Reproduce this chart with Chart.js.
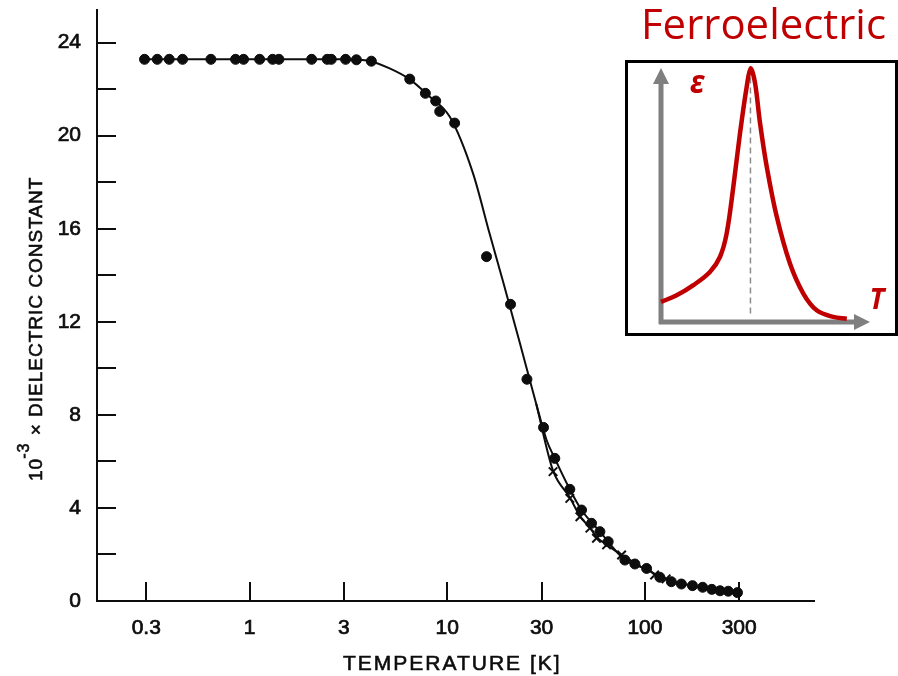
<!DOCTYPE html>
<html>
<head>
<meta charset="utf-8">
<script src="https://cdn.jsdelivr.net/npm/chart.js@4/dist/chart.umd.min.js"></script>
<style>
  html, body { margin: 0; padding: 0; background: #fff; }
  #wrap { position: relative; width: 898px; height: 676px; overflow: hidden; }
  #main { position: absolute; left: 0; top: 0; }
  #inset { position: absolute; left: 625px; top: 60px; background: #fff; }
</style>
</head>
<body>
<div id="wrap">
  <canvas id="main" width="898" height="676"></canvas>
  <canvas id="inset" width="273" height="276"></canvas>
</div>
<script>
// measured points (filled circles)
const dotT = [0.294, 0.341, 0.392, 0.458, 0.637, 0.849, 0.932, 1.124, 1.308, 1.407, 2.06, 2.47, 2.59, 3.06, 3.47, 4.13,
  6.46, 7.75, 8.74, 9.16, 10.9, 15.8, 20.9, 25.3, 30.7, 35.0, 41.7, 47.8, 53.7, 59.2, 65.2, 79.2, 89.0,
  102, 119, 136, 153, 174, 196, 218, 240, 264, 294];
const dotEps = [23.28, 23.28, 23.28, 23.28, 23.28, 23.28, 23.28, 23.28, 23.28, 23.28, 23.28, 23.28, 23.28, 23.28, 23.26, 23.2,
  22.43, 21.82, 21.49, 21.04, 20.54, 14.80, 12.75, 9.53, 7.46, 6.13, 4.80, 3.91, 3.34, 2.98, 2.55, 1.76, 1.59,
  1.40, 1.02, 0.83, 0.73, 0.66, 0.59, 0.50, 0.44, 0.42, 0.36];

// second sample (crosses)
const crossT = [34.3, 41.7, 46.9, 52.7, 56.9, 64.0, 76.2, 112, 128];
const crossEps = [5.56, 4.41, 3.62, 3.13, 2.70, 2.41, 1.98, 1.12, 0.95];

// fitted curves
const fitT = [0.294, 1, 3, 4.06, 5.11, 6.46, 8.16, 10.3, 13.5, 16.4, 19.2, 23.3, 28.2, 31.8, 35.0, 41.7, 47.8, 59.2, 79.2, 100, 119, 153, 196, 240, 300];
const fitEps = [23.28, 23.28, 23.28, 23.2, 22.89, 22.42, 21.67, 20.81, 18.38, 15.77, 13.70, 11.09, 8.47, 6.92, 6.13, 4.80, 3.91, 2.98, 1.76, 1.40, 1.05, 0.75, 0.58, 0.45, 0.36];
const crossFitT = [28.2, 34.3, 41.7, 46.9, 52.7, 56.9, 64, 76.2, 95];
const crossFitEps = [8.47, 5.6, 4.45, 3.65, 3.15, 2.75, 2.42, 1.98, 1.5];

const xTicks = [0.3, 1, 3, 10, 30, 100, 300];
const xTickLabels = ['0.3', '1', '3', '10', '30', '100', '300'];

// schematic inset (arbitrary units)
const insetT = [0, 7.5, 15.5, 23.4, 28.2, 31.4, 34.6, 37.8, 41.0, 42.9, 45.0, 47.4, 50.6, 55.4, 61.7, 68.1, 74.5, 82.4, 88.9];
const insetEps = [7.9, 10.5, 14.5, 19.7, 25.6, 34.8, 53.2, 74.3, 92.6, 99.9, 94.0, 78.2, 61.1, 41.4, 23.0, 11.2, 4.6, 2.0, 1.3];
const tcT = [42.8, 42.8];
const tcEps = [3.3, 98];

const pts = (xs, ys) => xs.map((x, i) => ({ x: x, y: ys[i] }));
const INK = '#0d0d0d';
const RED = '#c00000';
const FONT = '"Liberation Sans", "DejaVu Sans", sans-serif';

const annotate = {
  id: 'annotate',
  beforeDatasetsDraw(chart) {
    const { ctx, chartArea, scales: { x, y } } = chart;
    ctx.save();
    ctx.strokeStyle = INK;
    ctx.lineWidth = 2;
    ctx.beginPath();
    y.ticks.forEach(t => {
      const py = Math.round(y.getPixelForValue(t.value));
      ctx.moveTo(chartArea.left, py);
      ctx.lineTo(chartArea.left + 19, py);
    });
    x.ticks.forEach(t => {
      const px = Math.round(x.getPixelForValue(t.value));
      ctx.moveTo(px, chartArea.bottom);
      ctx.lineTo(px, chartArea.bottom - 19);
    });
    ctx.stroke();
    ctx.restore();
  },
  afterDraw(chart) {
    const ctx = chart.ctx;
    ctx.save();
    ctx.fillStyle = INK;
    ctx.strokeStyle = INK;
    ctx.lineWidth = 0.6;
    // y title, rotated
    ctx.translate(42, 481);
    ctx.rotate(-Math.PI / 2);
    ctx.font = '19px ' + FONT;
    ctx.letterSpacing = '1px';
    ctx.fillText('10', 0, 0);
    ctx.strokeText('10', 0, 0);
    let cx = ctx.measureText('10').width;
    ctx.font = '16px ' + FONT;
    ctx.fillText('-3', cx - 1, -13);
    ctx.strokeText('-3', cx - 1, -13);
    cx += ctx.measureText('-3').width;
    ctx.font = '19px ' + FONT;
    ctx.fillText(' \u00d7 DIELECTRIC CONSTANT', cx, 0);
    ctx.strokeText(' \u00d7 DIELECTRIC CONSTANT', cx, 0);
    ctx.restore();

    ctx.save();
    ctx.fillStyle = INK;
    ctx.strokeStyle = INK;
    ctx.lineWidth = 0.6;
    ctx.font = '21px ' + FONT;
    ctx.letterSpacing = '2px';
    ctx.fillText('TEMPERATURE [K]', 343, 670);
    ctx.strokeText('TEMPERATURE [K]', 343, 670);
    ctx.restore();

    ctx.save();
    ctx.fillStyle = RED;
    ctx.font = '42px "Open Sans", "Noto Sans", sans-serif';
    ctx.fillText('Ferroelectric', 641, 39, 245);
    ctx.restore();
  }
};

new Chart(document.getElementById('main'), {
  type: 'scatter',
  data: {
    datasets: [{
      label: 'dots',
      data: pts(dotT, dotEps),
      backgroundColor: INK,
      borderColor: INK,
      pointRadius: 5,
      pointHoverRadius: 5
    }, {
      label: 'crosses',
      data: pts(crossT, crossEps),
      pointStyle: 'crossRot',
      borderColor: INK,
      borderWidth: 2,
      pointRadius: 6
    }, {
      label: 'fit',
      data: pts(fitT, fitEps),
      showLine: true,
      borderColor: INK,
      borderWidth: 2,
      pointRadius: 0,
      cubicInterpolationMode: 'monotone'
    }, {
      label: 'fit crosses',
      data: pts(crossFitT, crossFitEps),
      showLine: true,
      borderColor: INK,
      borderWidth: 2,
      pointRadius: 0,
      cubicInterpolationMode: 'monotone'
    }]
  },
  options: {
    responsive: false,
    animation: false,
    layout: { padding: { top: 10, right: 84, left: 0, bottom: 0 } },
    plugins: { legend: { display: false }, tooltip: { enabled: false } },
    scales: {
      x: {
        type: 'logarithmic',
        min: 0.169,
        max: 717,
        afterBuildTicks: s => { s.ticks = xTicks.map(v => ({ value: v })); },
        afterFit: s => { s.height = 75; s.paddingLeft = 0; s.paddingRight = 0; },
        grid: { display: false, drawTicks: false },
        border: { display: true, color: INK, width: 2 },
        ticks: {
          autoSkip: false,
          maxRotation: 0,
          padding: 15,
          color: INK,
          textStrokeColor: INK,
          textStrokeWidth: 0.7,
          font: { family: FONT, size: 21 },
          callback: (v, i) => xTickLabels[i]
        }
      },
      y: {
        min: 0,
        max: 25.4,
        afterFit: s => { s.width = 97; s.paddingTop = 0; s.paddingBottom = 0; },
        grid: { display: false, drawTicks: false },
        border: { display: true, color: INK, width: 2 },
        ticks: {
          stepSize: 2,
          includeBounds: false,
          autoSkip: false,
          padding: 16,
          color: INK,
          textStrokeColor: INK,
          textStrokeWidth: 0.7,
          font: { family: FONT, size: 21 },
          callback: v => (v % 4 === 0 ? String(v) : '')
        }
      }
    }
  },
  plugins: [annotate]
});

const insetDecor = {
  id: 'insetDecor',
  beforeDatasetsDraw(chart) {
    const { ctx, chartArea: a, scales: { x, y } } = chart;
    const x0 = x.getPixelForValue(0);
    const y0 = y.getPixelForValue(0);
    ctx.save();
    ctx.strokeStyle = '#000';
    ctx.lineWidth = 3;
    ctx.strokeRect(1.5, 1.5, chart.width - 3, chart.height - 3);
    ctx.strokeStyle = '#7f7f7f';
    ctx.fillStyle = '#7f7f7f';
    ctx.lineWidth = 5;
    ctx.beginPath();
    ctx.moveTo(x0, y0 + 2);
    ctx.lineTo(x0, a.top + 14);
    ctx.moveTo(x0 - 2, y0);
    ctx.lineTo(a.right - 14, y0);
    ctx.stroke();
    ctx.beginPath();
    ctx.moveTo(x0, a.top);
    ctx.lineTo(x0 - 8, a.top + 16);
    ctx.lineTo(x0 + 8, a.top + 16);
    ctx.closePath();
    ctx.moveTo(a.right, y0);
    ctx.lineTo(a.right - 16, y0 - 8);
    ctx.lineTo(a.right - 16, y0 + 8);
    ctx.closePath();
    ctx.fill();
    ctx.restore();
  },
  afterDraw(chart) {
    const ctx = chart.ctx;
    ctx.save();
    ctx.fillStyle = RED;
    ctx.textAlign = 'center';
    ctx.textBaseline = 'middle';
    ctx.font = 'italic bold 32px "Noto Sans", "Liberation Sans", sans-serif';
    ctx.fillText('\u03b5', 72, 24);
    ctx.font = 'italic bold 28px "Noto Sans", "Liberation Sans", sans-serif';
    ctx.fillText('T', 252, 241);
    ctx.restore();
  }
};

new Chart(document.getElementById('inset'), {
  type: 'scatter',
  data: {
    datasets: [{
      data: pts(insetT, insetEps),
      showLine: true,
      borderColor: RED,
      borderWidth: 4.5,
      pointRadius: 0,
      tension: 0.35,
      clip: false
    }, {
      data: pts(tcT, tcEps),
      showLine: true,
      borderColor: '#8c8c8c',
      borderWidth: 1.5,
      borderDash: [6, 4],
      pointRadius: 0,
      clip: false
    }]
  },
  options: {
    responsive: false,
    animation: false,
    layout: { padding: { left: 36, right: 28, top: 8, bottom: 14 } },
    plugins: { legend: { display: false }, tooltip: { enabled: false } },
    scales: {
      x: { type: 'linear', min: 0, max: 100, display: false },
      y: { type: 'linear', min: 0, max: 100, display: false }
    }
  },
  plugins: [insetDecor]
});
</script>
</body>
</html>
